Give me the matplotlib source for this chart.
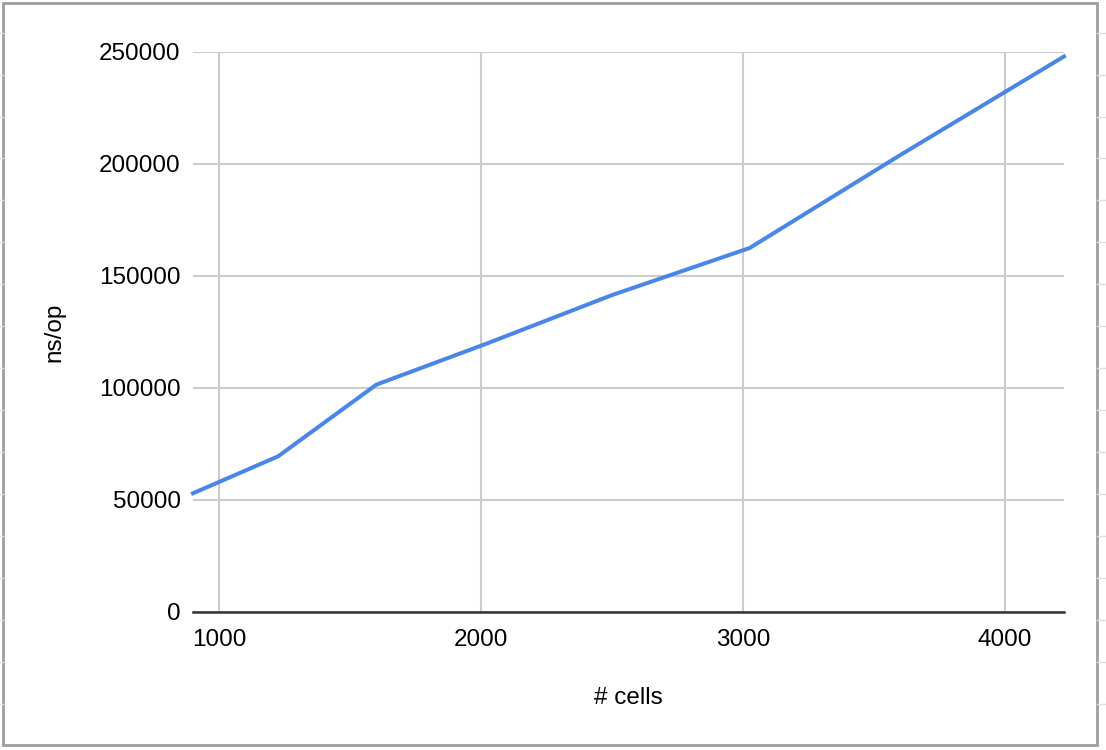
import matplotlib
matplotlib.use('Agg')
import matplotlib.pyplot as plt
from matplotlib.patches import Rectangle
from matplotlib.lines import Line2D

LINE = '#4a86e8'
GRID = '#cccccc'
AXIS = '#333333'
FRAME = '#9e9e9e'

cells = [900, 1225, 1600, 2025, 2500, 3025, 3600, 4225]
ns_per_op = [53000, 69500, 101500, 120000, 141500, 162500, 204000, 248000]
x_ticks = [1000, 2000, 3000, 4000]
y_ticks = [0, 50000, 100000, 150000, 200000, 250000]

plt.rcParams['font.family'] = ['Liberation Sans', 'DejaVu Sans']

fig = plt.figure(figsize=(11.06, 7.5), dpi=100)
fig.patch.set_facecolor('#FFFFFF')

# spreadsheet cells peeking out around the chart frame
for yy in [33, 75, 117, 158, 200, 242, 284, 326, 368, 410, 452, 494, 536, 578, 620, 662, 704]:
    fig.add_artist(Line2D([0, 3 / 1106], [1 - yy / 750] * 2, color='#e0e0e0', lw=1))
    fig.add_artist(Line2D([1097 / 1106, 1], [1 - yy / 750] * 2, color='#e0e0e0', lw=1))
fig.add_artist(Rectangle((3 / 1106, 5 / 750), 1094 / 1106, 742 / 750, fill=False,
                         edgecolor=FRAME, lw=2))

ax = fig.add_axes([193 / 1106, 138 / 750, 871 / 1106, 560 / 750])
ax.set_facecolor('#FFFFFF')
ax.plot(cells, ns_per_op, color=LINE, lw=2.9, solid_joinstyle='miter', zorder=3, clip_on=False)

ax.set_xlim(900, 4225)
ax.set_ylim(0, 250000)
ax.set_xticks(x_ticks)
ax.set_yticks(y_ticks)
ax.set_xticklabels([str(v) for v in x_ticks])
ax.set_yticklabels([str(v) for v in y_ticks])
ax.tick_params(axis='both', length=0, labelsize=17.5, colors='#000000')
ax.tick_params(axis='y', pad=9)
ax.tick_params(axis='x', pad=12)
ax.grid(True, color=GRID, lw=1.5, zorder=0)
for s in ['top', 'right', 'left']:
    ax.spines[s].set_visible(False)
ax.spines['bottom'].set_color(AXIS)
ax.spines['bottom'].set_linewidth(1.8)
ax.spines['bottom'].set_zorder(4)

ax.set_xlabel('# cells', fontsize=17.5, labelpad=26)
ax.set_ylabel('ns/op', fontsize=17.5, labelpad=24)

fig.savefig('out.png', dpi=100, facecolor='#FFFFFF')
